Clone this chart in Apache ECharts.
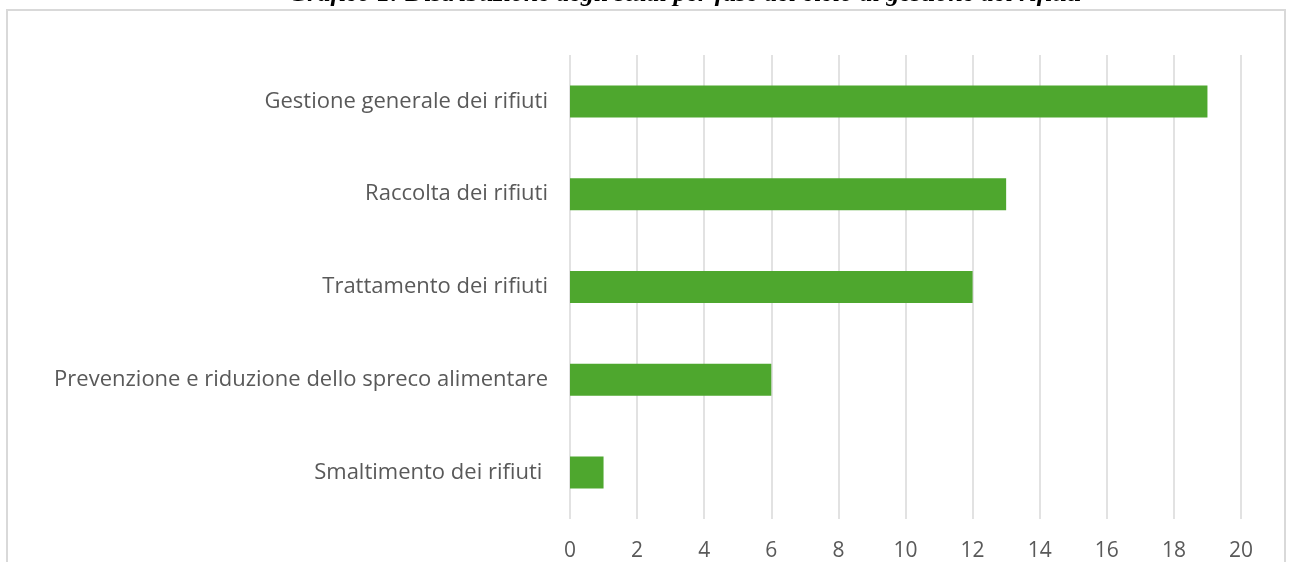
<!DOCTYPE html>
<html>
<head>
<meta charset="utf-8">
<script src="https://cdn.jsdelivr.net/npm/echarts@6/dist/echarts.min.js"></script>
<style>
html,body{margin:0;padding:0;background:#fff;}
#chart{width:1291px;height:562px;}
</style>
</head>
<body>
<div id="chart"></div>
<script>
const titleText = "Grafico 1: Distribuzione degli studi per fase del ciclo di gestione dei rifiuti";
const categories = [
  "Smaltimento dei rifiuti ",
  "Prevenzione e riduzione dello spreco alimentare",
  "Trattamento dei rifiuti",
  "Raccolta dei rifiuti",
  "Gestione generale dei rifiuti"
];
const values = [1, 6, 12, 13, 19];
const xMin = 0, xMax = 20, xStep = 2;

const chart = echarts.init(document.getElementById('chart'));
chart.setOption({
  animation: false,
  graphic: [
    {
      type: 'rect', z: -10, silent: true,
      shape: {x: 7, y: 10, width: 1278, height: 600},
      style: {fill: '#fff', stroke: '#d9d9d9', lineWidth: 2}
    },
    {
      type: 'text', z: 10, silent: true,
      x: 685, y: -6,
      style: {
        text: titleText,
        fill: '#000',
        fontFamily: '"Liberation Serif", "DejaVu Serif", serif',
        fontStyle: 'italic',
        fontWeight: 'bold',
        fontSize: 26,
        align: 'center',
        verticalAlign: 'middle'
      }
    }
  ],
  grid: {left: 570, right: 50, top: 55, bottom: 42, containLabel: false},
  xAxis: {
    type: 'value', min: xMin, max: xMax, interval: xStep,
    axisLine: {show: false}, axisTick: {show: false},
    splitLine: {show: true, lineStyle: {color: '#d9d9d9', width: 1.5}},
    axisLabel: {color: '#595959', fontSize: 21, margin: 22, fontFamily: '"Open Sans", Roboto, sans-serif'}
  },
  yAxis: {
    type: 'category', data: categories,
    axisLine: {show: false}, axisTick: {show: false},
    axisLabel: {color: '#595959', fontSize: 22, margin: 22, fontFamily: '"Open Sans", Roboto, sans-serif'}
  },
  series: [{
    type: 'bar', data: values, barWidth: 32,
    itemStyle: {color: '#4EA72E'}
  }]
});
</script>
</body>
</html>
